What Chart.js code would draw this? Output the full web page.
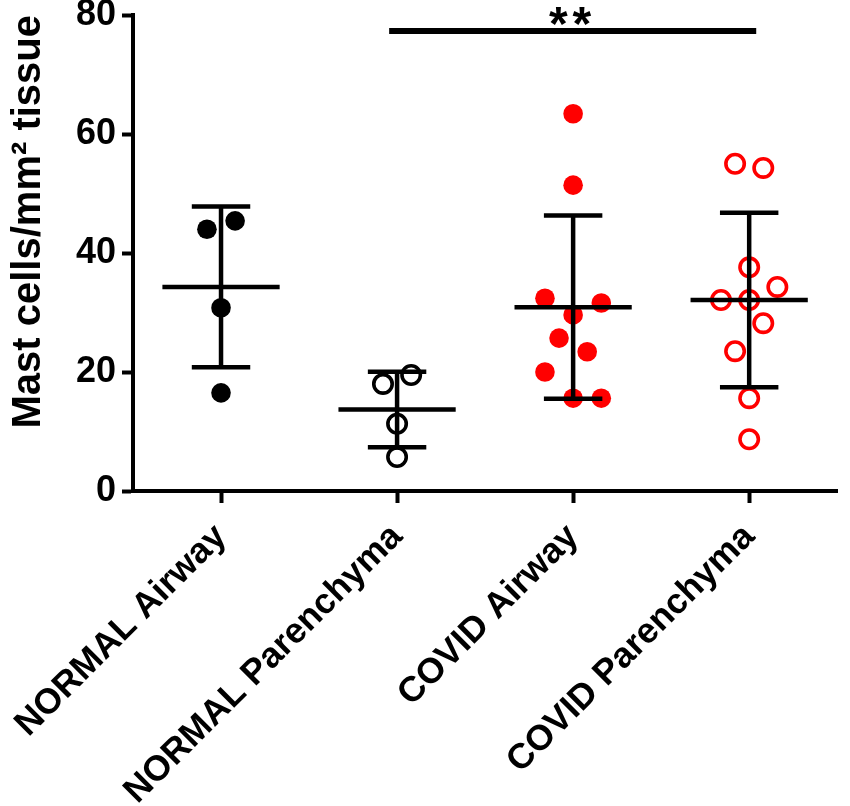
<!DOCTYPE html>
<html>
<head>
<meta charset="utf-8">
<script src="https://cdn.jsdelivr.net/npm/chart.js@4.4.1/dist/chart.umd.min.js"></script>
<style>
    html, body { margin: 0; padding: 0; background: #fff; }
    #contenitore { width: 850px; height: 806px; }
</style>
</head>
<body>
<div id="contenitore"><canvas id="grafico"></canvas></div>
<script>
// categorie sull'asse x
var categories = ['NORMAL Airway', 'NORMAL Parenchyma', 'COVID Airway', 'COVID Parenchyma'];

// valori (mast cells / mm2)
var normalAirway     = [44.0, 45.4, 30.8, 16.5];
var normalParenchyma = [18.0, 19.5, 11.3, 5.7];
var covidAirway      = [63.4, 51.4, 32.4, 31.6, 29.6, 25.7, 23.4, 20.0, 15.6, 15.6];
var covidParenchyma  = [55.0, 54.3, 37.6, 34.3, 32.1, 32.1, 28.2, 23.5, 15.6, 8.7];

// spostamento orizzontale dei punti dentro la colonna (frazione di colonna)
var normalAirwayJitter     = [-0.08, 0.08, 0, 0];
var normalParenchymaJitter = [-0.08, 0.08, 0, 0];
var covidAirwayJitter      = [0, 0, -0.16, 0.16, 0, -0.08, 0.08, -0.16, 0, 0.16];
var covidParenchymaJitter  = [-0.08, 0.08, 0, 0.16, -0.16, 0, 0.08, -0.08, 0, 0];

// media e deviazione standard per gruppo
var means = [34.3, 13.7, 30.9, 32.1];
var sds   = [13.5, 6.35, 15.4, 14.65];

var yTicks = [0, 20, 40, 60, 80];

// barra di significatività
var sigGroups = [1, 3];
var sigLevel = 77.3;
var sigLabel = '**';

var FONT = "'Liberation Sans', Arial, sans-serif";
var ROSSO = '#ff0000';

function punti(valori, jitter, i) {
    var out = [];
    for (var k = 0; k < valori.length; k++) {
        out.push({x: i + jitter[k], y: valori[k]});
    }
    return out;
}

// media + SD come un'unica linea spezzata (null = interruzione)
function barreErrore(i) {
    var m = means[i], s = sds[i];
    return [
        {x: i - 0.333, y: m}, {x: i + 0.333, y: m}, {x: i, y: null},
        {x: i - 0.166, y: m + s}, {x: i + 0.166, y: m + s}, {x: i, y: null},
        {x: i - 0.166, y: m - s}, {x: i + 0.166, y: m - s}, {x: i, y: null},
        {x: i, y: m - s}, {x: i, y: m + s}
    ];
}

var datasets = [];

for (var i = 0; i < categories.length; i++) {
    datasets.push({
        type: 'line',
        data: barreErrore(i),
        borderColor: '#000',
        borderWidth: 4.5,
        pointRadius: 0,
        spanGaps: false,
        order: 0
    });
}

datasets.push({
    type: 'line',
    data: [{x: sigGroups[0] - 0.045, y: sigLevel}, {x: sigGroups[1] + 0.04, y: sigLevel}],
    borderColor: '#000',
    borderWidth: 6,
    pointRadius: 0,
    order: 0
});

var gruppi = [
    {v: normalAirway,     j: normalAirwayJitter,     col: '#000', pieno: true},
    {v: normalParenchyma, j: normalParenchymaJitter, col: '#000', pieno: false},
    {v: covidAirway,      j: covidAirwayJitter,      col: ROSSO,  pieno: true},
    {v: covidParenchyma,  j: covidParenchymaJitter,  col: ROSSO,  pieno: false}
];

for (var g = 0; g < gruppi.length; g++) {
    var gr = gruppi[g];
    datasets.push({
        type: 'scatter',
        data: punti(gr.v, gr.j, g),
        pointStyle: 'circle',
        pointRadius: gr.pieno ? 9.8 : 9.2,
        pointBorderWidth: gr.pieno ? 0 : 3.6,
        pointBackgroundColor: gr.pieno ? gr.col : 'rgba(0,0,0,0)',
        pointBorderColor: gr.col,
        order: 1
    });
}

// scritta "**" sopra la barra, un asterisco alla volta
var asterischi = {
    id: 'asterischi',
    afterDatasetsDraw: function (chart) {
        var ctx = chart.ctx;
        var xs = chart.scales.x, ys = chart.scales.y;
        var x = xs.getPixelForValue((sigGroups[0] + sigGroups[1]) / 2) - 3;
        var y = ys.getPixelForValue(sigLevel);
        var passo = 23.5;
        ctx.save();
        ctx.fillStyle = '#000';
        ctx.font = 'bold 48px ' + FONT;
        ctx.textAlign = 'center';
        ctx.textBaseline = 'alphabetic';
        for (var k = 0; k < sigLabel.length; k++) {
            var cx = x + (k - (sigLabel.length - 1) / 2) * passo;
            ctx.fillText(sigLabel[k], cx, y + 8.5);
        }
        ctx.restore();
    }
};

var ctx = document.getElementById('grafico');
var chart = new Chart(ctx, {
    type: 'scatter',
    data: { datasets: datasets },
    plugins: [asterischi],
    options: {
        responsive: true,
        maintainAspectRatio: false,
        animation: false,
        layout: { padding: { top: 0, right: 2, bottom: 0, left: 0 } },
        plugins: {
            legend: { display: false },
            tooltip: { enabled: false }
        },
        elements: { line: { tension: 0, borderCapStyle: 'butt' } },
        scales: {
            x: {
                type: 'linear',
                min: -0.5,
                max: 3.5,
                afterBuildTicks: function (scale) {
                    scale.ticks = categories.map(function (c, k) { return {value: k}; });
                },
                afterFit: function (scale) {
                    scale.height = 315;
                    scale.paddingLeft = 0;
                    scale.paddingRight = 0;
                },
                ticks: {
                    autoSkip: false,
                    minRotation: 45,
                    maxRotation: 45,
                    padding: 13,
                    color: '#000',
                    font: { family: FONT, size: 35.5, weight: 'bold' },
                    callback: function (v) { return categories[v]; }
                },
                grid: {
                    drawOnChartArea: false,
                    drawTicks: true,
                    tickLength: 12,
                    tickWidth: 4,
                    tickColor: '#000'
                },
                border: { display: true, color: '#000', width: 4 }
            },
            y: {
                min: 0,
                max: 80,
                afterBuildTicks: function (scale) {
                    scale.ticks = yTicks.map(function (v) { return {value: v}; });
                },
                afterFit: function (scale) {
                    scale.width = 133;
                    scale.paddingTop = 15;
                    scale.paddingBottom = 0;
                },
                ticks: {
                    padding: 6,
                    color: '#000',
                    font: { family: FONT, size: 36, weight: 'bold' }
                },
                grid: {
                    drawOnChartArea: false,
                    drawTicks: true,
                    tickLength: 11,
                    tickWidth: 4,
                    tickColor: '#000'
                },
                border: { display: true, color: '#000', width: 4 },
                title: {
                    display: true,
                    text: 'Mast cells/mm\u00B2 tissue',
                    align: 'end',
                    color: '#000',
                    padding: { top: 5, bottom: 0 },
                    font: { family: FONT, size: 40, weight: 'bold' }
                }
            }
        }
    }
});
</script>
</body>
</html>
